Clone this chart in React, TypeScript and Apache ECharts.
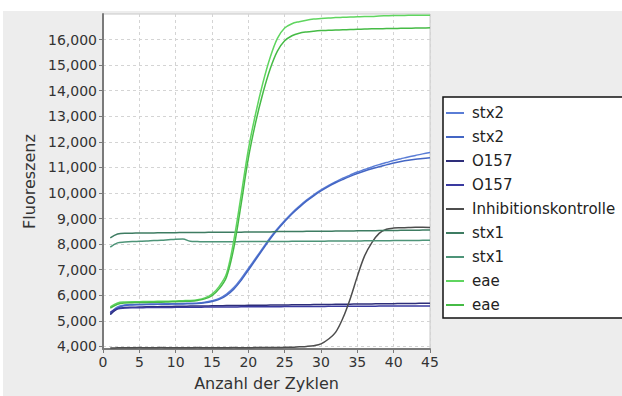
import React, { useEffect, useRef } from "react";
import * as echarts from "echarts";

const cycles = [1, 2, 3, 4, 5, 6, 7, 8, 9, 10, 11, 12, 13, 14, 15, 16, 17, 18, 19, 20, 21, 22, 23, 24, 25, 26, 27, 28, 29, 30, 31, 32, 33, 34, 35, 36, 37, 38, 39, 40, 41, 42, 43, 44, 45];

const stx2A = [5300, 5550, 5620, 5640, 5650, 5650, 5660, 5660, 5670, 5670, 5680, 5690, 5700, 5730, 5790, 5880, 6050, 6300, 6650, 7050, 7450, 7850, 8250, 8600, 8920, 9220, 9480, 9720, 9930, 10120, 10290, 10440, 10580, 10700, 10820, 10920, 11020, 11110, 11190, 11270, 11340, 11410, 11470, 11530, 11580];
const stx2B = [5250, 5500, 5600, 5620, 5630, 5640, 5640, 5650, 5650, 5660, 5660, 5670, 5680, 5710, 5760, 5840, 6000, 6240, 6580, 6980, 7390, 7800, 8200, 8560, 8880, 9180, 9440, 9680, 9890, 10080, 10250, 10400, 10530, 10650, 10760, 10860, 10950, 11030, 11100, 11170, 11230, 11280, 11320, 11350, 11380];
const o157A = [5250, 5470, 5520, 5530, 5540, 5550, 5550, 5560, 5560, 5570, 5570, 5580, 5580, 5580, 5590, 5590, 5600, 5600, 5600, 5610, 5610, 5610, 5620, 5620, 5620, 5630, 5630, 5630, 5640, 5640, 5640, 5650, 5650, 5650, 5660, 5660, 5660, 5670, 5670, 5670, 5680, 5680, 5680, 5690, 5690];
const o157B = [5330, 5480, 5500, 5510, 5510, 5520, 5520, 5520, 5520, 5530, 5530, 5530, 5530, 5540, 5540, 5540, 5540, 5540, 5550, 5550, 5550, 5550, 5550, 5550, 5560, 5560, 5560, 5560, 5560, 5560, 5570, 5570, 5570, 5570, 5570, 5570, 5570, 5580, 5580, 5580, 5580, 5580, 5580, 5580, 5580];
const inhib = [3940, 3945, 3950, 3950, 3955, 3950, 3950, 3955, 3950, 3950, 3950, 3950, 3955, 3950, 3950, 3950, 3950, 3955, 3950, 3950, 3955, 3955, 3960, 3960, 3965, 3970, 3985, 4000, 4030, 4100, 4280, 4550, 5100, 5850, 6740, 7540, 8060, 8420, 8580, 8630, 8640, 8650, 8660, 8660, 8650];
const stx1A = [8250, 8400, 8430, 8430, 8440, 8440, 8440, 8450, 8450, 8450, 8460, 8460, 8460, 8460, 8470, 8470, 8470, 8470, 8470, 8480, 8480, 8480, 8480, 8490, 8490, 8490, 8490, 8500, 8500, 8500, 8500, 8510, 8510, 8510, 8520, 8520, 8520, 8530, 8530, 8530, 8540, 8540, 8540, 8550, 8550];
const stx1B = [7880, 8050, 8080, 8100, 8110, 8120, 8140, 8150, 8170, 8190, 8200, 8110, 8100, 8090, 8090, 8090, 8090, 8090, 8100, 8100, 8100, 8100, 8100, 8100, 8100, 8110, 8110, 8110, 8110, 8110, 8120, 8120, 8120, 8120, 8120, 8130, 8130, 8130, 8130, 8140, 8140, 8140, 8140, 8150, 8150];
const eaeA = [5550, 5700, 5740, 5750, 5750, 5760, 5760, 5770, 5770, 5780, 5790, 5800, 5830, 5900, 6050, 6350, 6850, 8150, 9900, 11700, 13100, 14300, 15300, 16050, 16450, 16620, 16700, 16760, 16800, 16820, 16840, 16860, 16870, 16880, 16890, 16900, 16900, 16920, 16930, 16940, 16940, 16950, 16950, 16950, 16950];
const eaeB = [5500, 5650, 5700, 5710, 5720, 5720, 5730, 5730, 5740, 5750, 5760, 5770, 5800, 5860, 5990, 6260, 6720, 7850, 9550, 11350, 12750, 13900, 14850, 15550, 15950, 16150, 16250, 16300, 16330, 16350, 16360, 16370, 16380, 16390, 16400, 16410, 16420, 16420, 16430, 16430, 16440, 16440, 16450, 16450, 16460];

const seriesNames = ["stx2", "stx2", "O157", "O157", "Inhibitionskontrolle", "stx1", "stx1", "eae", "eae"];
const seriesColors = ["#5a7dd6", "#4466c4", "#2e2e7a", "#3a3aa0", "#4d4d4d", "#3e7c62", "#4d9478", "#5fd55f", "#46bb46"];
const seriesValues = [stx2A, stx2B, o157A, o157B, inhib, stx1A, stx1B, eaeA, eaeB];

const yTicks = [4000, 5000, 6000, 7000, 8000, 9000, 10000, 11000, 12000, 13000, 14000, 15000, 16000];

const FONT = "DejaVu Sans";

export default function App() {
  const ref = useRef<HTMLDivElement>(null);

  useEffect(() => {
    if (!ref.current) return;
    const chart = echarts.init(ref.current, null, { renderer: "svg" });

    const legendItems: any[] = [];
    seriesNames.forEach((name, i) => {
      const y = 113 + i * 24;
      legendItems.push({
        type: "line",
        shape: { x1: 446, y1: y, x2: 464, y2: y },
        style: { stroke: seriesColors[i], lineWidth: 2 },
        z: 10,
      });
      legendItems.push({
        type: "text",
        x: 472,
        y,
        style: { text: name, fill: "#222", font: `15px "${FONT}"`, verticalAlign: "middle" },
        z: 10,
      });
    });

    chart.setOption({
      animation: false,
      textStyle: { fontFamily: FONT },
      grid: {
        left: 103,
        top: 14,
        right: 192,
        bottom: 42,
        show: true,
        backgroundColor: "#ffffff",
        borderColor: "#c8c8c8",
        borderWidth: 1,
      },
      xAxis: {
        type: "value",
        min: 0,
        max: 45,
        interval: 5,
        name: "Anzahl der Zyklen",
        nameLocation: "middle",
        nameGap: 26,
        nameTextStyle: { fontSize: 16, color: "#333", fontFamily: FONT },
        axisLine: { show: true, lineStyle: { color: "#7a7a7a", width: 2 } },
        axisTick: { show: true, length: 4, lineStyle: { color: "#7a7a7a" } },
        axisLabel: { fontSize: 14, color: "#333", margin: 6, fontFamily: FONT },
        splitLine: { show: true, lineStyle: { color: "#d4d4d4", type: [3, 3] } },
      },
      yAxis: {
        type: "value",
        min: 3900,
        max: 17000,
        name: "Fluoreszenz",
        nameLocation: "middle",
        nameGap: 60,
        nameTextStyle: { fontSize: 16, color: "#333", fontFamily: FONT },
        axisLine: { show: true, lineStyle: { color: "#7a7a7a", width: 2 } },
        axisTick: { show: true, length: 4, customValues: yTicks, lineStyle: { color: "#7a7a7a" } },
        axisLabel: {
          customValues: yTicks,
          fontSize: 14,
          color: "#333",
          margin: 6,
          fontFamily: FONT,
          formatter: (v: number) => v.toLocaleString("en-US"),
        },
        splitLine: { show: true, lineStyle: { color: "#d4d4d4", type: [3, 3] } },
      },
      series: seriesNames.map((name, i) => ({
        type: "line",
        name,
        data: cycles.map((c, j) => [c, seriesValues[i][j]]),
        showSymbol: false,
        symbol: "none",
        smooth: 0.35,
        lineStyle: { width: 1.5, color: seriesColors[i] },
        itemStyle: { color: seriesColors[i] },
      })),
      graphic: [
        {
          type: "rect",
          shape: { x: 443, y: 97, width: 200, height: 221 },
          style: { fill: "#ffffff", stroke: "#111111", lineWidth: 1.5 },
          z: 9,
        },
        ...legendItems,
      ],
    });

    return () => chart.dispose();
  }, []);

  return (
    <div style={{ position: "fixed", left: 0, top: 0, width: 622, height: 396, background: "#ffffff" }}>
      <div style={{ position: "absolute", left: 3, top: 11, width: 619, height: 385, background: "#ededed" }} />
      <div ref={ref} style={{ position: "absolute", left: 0, top: 0, width: 622, height: 396 }} />
    </div>
  );
}
